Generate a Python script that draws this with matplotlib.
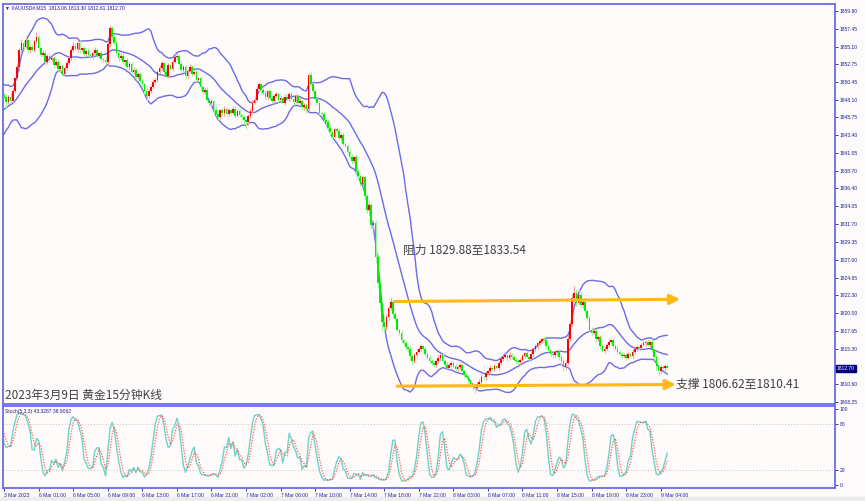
import numpy as np
import matplotlib.pyplot as plt

plt.rcParams['font.family'] = ['Noto Sans CJK SC', 'DejaVu Sans']

# bars before the first visible candle (only feed the indicators)
warmup = [1843.2, 1843.8, 1844.5, 1844.1, 1845.0, 1845.6, 1845.2, 1846.0, 1846.8, 1846.3,
          1847.1, 1847.6, 1847.2, 1848.0, 1848.5, 1847.9, 1848.6, 1849.0, 1848.4, 1848.7]
warmup_wick = [0.3, 0.2, 0.4, 0.3, 0.2, 0.3, 0.4, 0.2, 0.3, 0.2,
               0.4, 0.3, 0.2, 0.3, 0.2, 0.4, 0.3, 0.2, 0.3, 0.2]

# XAUUSD M15 closes (8 bars per row)
closes = [
    1848.4, 1847.8, 1848.5, 1847.9, 1849.3, 1850.9, 1852.4, 1854.6,
    1855.6, 1855.1, 1855.9, 1854.6, 1855.0, 1854.7, 1855.8, 1856.4,
    1854.9, 1854.0, 1854.3, 1853.1, 1853.9, 1853.3, 1853.6, 1852.7,
    1853.1, 1852.2, 1852.5, 1851.5, 1852.3, 1852.9, 1853.6, 1854.7,
    1855.2, 1854.8, 1855.6, 1854.6, 1854.9, 1854.1, 1854.5, 1854.0,
    1853.9, 1854.3, 1854.6, 1853.9, 1854.2, 1853.4, 1853.3, 1853.0,
    1855.4, 1857.6, 1856.4, 1855.6, 1854.2, 1853.6, 1853.9, 1853.0,
    1853.3, 1852.4, 1852.8, 1851.7, 1852.0, 1851.1, 1851.5, 1850.5,
    1850.1, 1849.3, 1848.6, 1849.2, 1849.8, 1850.4, 1850.7, 1851.8,
    1852.3, 1852.9, 1851.7, 1851.2, 1852.6, 1852.2, 1853.1, 1853.7,
    1853.9, 1852.8, 1852.0, 1852.4, 1851.2, 1851.9, 1852.4, 1851.5,
    1851.7, 1850.7, 1850.9, 1849.7, 1849.1, 1849.4, 1848.1, 1847.6,
    1847.9, 1846.8, 1846.2, 1845.8, 1846.7, 1846.3, 1846.9, 1846.2,
    1846.7, 1846.4, 1846.9, 1846.0, 1846.6, 1846.1, 1845.8, 1845.4,
    1845.1, 1845.9, 1846.6, 1847.7, 1848.1, 1849.5, 1850.1, 1849.4,
    1849.0, 1848.4, 1849.2, 1848.3, 1847.9, 1848.6, 1848.8, 1848.0,
    1848.3, 1847.7, 1848.5, 1848.2, 1848.9, 1848.2, 1847.8, 1848.6,
    1847.7, 1847.9, 1847.1, 1847.4, 1846.9, 1851.3, 1850.1, 1849.3,
    1848.2, 1847.6, 1846.4, 1846.2, 1845.4, 1845.1, 1844.3, 1843.8,
    1843.2, 1844.2, 1844.0, 1843.1, 1843.5, 1842.3, 1842.0, 1841.2,
    1840.6, 1840.0, 1840.5, 1838.7, 1838.0, 1837.0, 1837.9, 1835.4,
    1833.6, 1834.2, 1831.6, 1831.9, 1827.4, 1824.0, 1821.3, 1818.8,
    1818.2, 1819.4, 1820.6, 1821.5, 1819.8, 1819.2, 1817.7, 1817.4,
    1816.4, 1816.0, 1815.5, 1815.2, 1814.3, 1813.6, 1814.5, 1814.9,
    1815.3, 1815.6, 1815.2, 1814.6, 1814.1, 1813.7, 1813.4, 1813.2,
    1813.6, 1814.1, 1814.4, 1813.7, 1813.2, 1812.8, 1813.2, 1813.4,
    1813.0, 1812.6, 1812.9, 1813.1, 1812.4, 1811.8, 1811.6, 1811.0,
    1810.6, 1810.3, 1810.1, 1810.7, 1810.9, 1811.6, 1811.5, 1812.1,
    1812.3, 1812.8, 1812.6, 1813.0, 1812.8, 1813.4, 1813.9, 1814.2,
    1814.4, 1814.0, 1814.5, 1814.2, 1813.8, 1813.6, 1813.5, 1813.8,
    1814.3, 1814.7, 1814.2, 1813.9, 1814.6, 1815.2, 1815.6, 1816.0,
    1816.3, 1816.5, 1816.4, 1815.6, 1815.1, 1814.6, 1814.4, 1814.8,
    1815.0, 1814.2, 1813.6, 1812.9, 1813.4, 1816.6, 1818.5, 1821.9,
    1822.6, 1821.3, 1822.4, 1821.0, 1821.4, 1820.2, 1819.3, 1817.8,
    1817.4, 1817.6, 1816.5, 1816.8, 1815.6, 1815.0, 1815.3, 1815.8,
    1816.2, 1816.4, 1815.7, 1815.3, 1814.9, 1814.6, 1814.3, 1814.5,
    1814.1, 1814.6, 1814.3, 1814.9, 1815.2, 1815.5, 1815.4, 1815.8,
    1816.0, 1816.2, 1815.8, 1816.2, 1815.1, 1814.2, 1813.0, 1812.3,
    1812.9, 1812.7, 1813.06, 1812.70,
]

# upper / lower shadow lengths in dollars, same layout as closes
wick_hi = [
    0.3, 0.4, 0.2, 0.5, 0.3, 0.2, 0.4, 0.3,  0.5, 0.3, 0.4, 0.2, 0.3, 0.4, 0.2, 0.6,
    0.3, 0.2, 0.4, 0.3, 0.2, 0.3, 0.4, 0.2,  0.3, 0.4, 0.2, 0.3, 0.2, 0.3, 0.2, 0.4,
    0.5, 0.3, 0.3, 0.4, 0.2, 0.3, 0.2, 0.4,  0.3, 0.2, 0.4, 0.3, 0.2, 0.3, 0.2, 0.4,
    0.6, 0.3, 0.2, 0.4, 0.3, 0.2, 0.4, 0.3,  0.2, 0.4, 0.3, 0.2, 0.4, 0.3, 0.2, 0.3,
    0.3, 0.2, 0.4, 0.3, 0.2, 0.4, 0.3, 0.2,  0.4, 0.3, 0.2, 0.5, 0.3, 0.2, 0.3, 0.5,
    0.3, 0.2, 0.4, 0.3, 0.2, 0.3, 0.4, 0.2,  0.3, 0.4, 0.2, 0.3, 0.2, 0.4, 0.3, 0.2,
    0.3, 0.2, 0.4, 0.3, 0.2, 0.3, 0.4, 0.2,  0.3, 0.2, 0.3, 0.4, 0.2, 0.3, 0.2, 0.3,
    0.2, 0.3, 0.4, 0.3, 0.2, 0.5, 0.3, 0.2,  0.3, 0.4, 0.2, 0.3, 0.4, 0.2, 0.3, 0.2,
    0.3, 0.2, 0.4, 0.3, 0.2, 0.3, 0.4, 0.2,  0.3, 0.4, 0.2, 0.3, 0.2, 0.3, 0.6, 0.3,
    0.2, 0.3, 0.4, 0.2, 0.3, 0.2, 0.3, 0.4,  0.3, 0.2, 0.3, 0.4, 0.2, 0.3, 0.2, 0.3,
    0.2, 0.3, 0.2, 0.4, 0.3, 0.2, 0.3, 0.2,  0.4, 0.5, 0.3, 0.4, 0.3, 0.4, 0.5, 0.4,
    0.6, 0.4, 0.5, 0.4, 0.3, 0.4, 0.3, 0.2,  0.3, 0.2, 0.3, 0.2, 0.4, 0.3, 0.2, 0.3,
    0.2, 0.3, 0.2, 0.3, 0.2, 0.3, 0.2, 0.3,  0.2, 0.3, 0.2, 0.3, 0.2, 0.3, 0.2, 0.3,
    0.2, 0.3, 0.2, 0.3, 0.2, 0.2, 0.3, 0.2,  0.3, 0.2, 0.3, 0.2, 0.4, 0.3, 0.2, 0.3,
    0.2, 0.3, 0.2, 0.3, 0.2, 0.3, 0.2, 0.3,  0.3, 0.2, 0.3, 0.2, 0.3, 0.2, 0.3, 0.2,
    0.3, 0.2, 0.3, 0.2, 0.3, 0.2, 0.3, 0.2,  0.3, 0.2, 0.3, 0.2, 0.3, 0.2, 0.3, 0.2,
    0.2, 0.3, 0.2, 0.3, 0.4, 0.5, 0.4, 0.6,  1.0, 0.5, 0.8, 0.4, 0.6, 0.4, 0.3, 0.4,
    0.3, 0.4, 0.3, 0.2, 0.3, 0.2, 0.3, 0.2,  0.3, 0.2, 0.3, 0.2, 0.3, 0.2, 0.3, 0.2,
    0.2, 0.3, 0.2, 0.3, 0.2, 0.3, 0.2, 0.3,  0.3, 0.2, 0.3, 0.2, 0.3, 0.2, 0.3, 0.2,
    0.2, 0.3, 0.2, 0.24,
]
wick_lo = [
    0.2, 0.9, 0.3, 0.2, 0.4, 0.3, 0.2, 0.5,  0.3, 0.4, 0.2, 0.3, 0.4, 0.2, 0.3, 0.2,
    0.4, 0.3, 0.2, 0.4, 0.3, 0.2, 0.3, 0.4,  0.2, 0.3, 0.4, 0.3, 0.2, 0.3, 0.2, 0.3,
    0.3, 0.2, 0.4, 0.3, 0.2, 0.4, 0.3, 0.2,  0.2, 0.4, 0.3, 0.2, 0.3, 0.2, 0.3, 0.2,
    0.3, 0.2, 0.4, 0.3, 0.2, 0.4, 0.3, 0.2,  0.3, 0.2, 0.4, 0.3, 0.2, 0.4, 0.3, 0.2,
    0.3, 0.4, 0.7, 0.3, 0.2, 0.3, 0.2, 0.3,  0.2, 0.3, 0.4, 0.2, 0.3, 0.2, 0.3, 0.2,
    0.3, 0.2, 0.3, 0.2, 0.4, 0.3, 0.2, 0.3,  0.2, 0.3, 0.2, 0.4, 0.3, 0.2, 0.3, 0.4,
    0.3, 0.4, 0.2, 0.4, 0.3, 0.2, 0.3, 0.2,  0.2, 0.3, 0.2, 0.3, 0.2, 0.3, 0.4, 0.5,
    0.9, 0.3, 0.2, 0.3, 0.2, 0.3, 0.2, 0.4,  0.3, 0.2, 0.3, 0.2, 0.4, 0.3, 0.2, 0.3,
    0.3, 0.2, 0.3, 0.2, 0.3, 0.2, 0.4, 0.2,  0.3, 0.2, 0.4, 0.3, 0.5, 0.3, 0.2, 0.3,
    0.3, 0.2, 0.3, 0.4, 0.2, 0.3, 0.2, 0.3,  0.3, 0.2, 0.3, 0.2, 0.4, 0.3, 0.2, 0.3,
    0.3, 0.4, 0.3, 0.2, 0.4, 0.3, 0.4, 0.3,  0.5, 0.4, 0.6, 0.5, 0.8, 0.7, 0.9, 1.2,
    0.6, 0.4, 0.3, 0.2, 0.4, 0.3, 0.2, 0.3,  0.3, 0.2, 0.4, 0.3, 0.5, 0.4, 0.2, 0.3,
    0.2, 0.3, 0.2, 0.3, 0.2, 0.3, 0.2, 0.3,  0.3, 0.2, 0.3, 0.2, 0.3, 0.2, 0.3, 0.3,
    0.2, 0.3, 0.2, 0.3, 0.2, 0.3, 0.2, 0.3,  0.3, 0.4, 0.6, 0.3, 0.2, 0.3, 0.2, 0.3,
    0.2, 0.3, 0.2, 0.3, 0.2, 0.3, 0.2, 0.3,  0.2, 0.3, 0.2, 0.3, 0.2, 0.3, 0.2, 0.3,
    0.2, 0.3, 0.2, 0.3, 0.2, 0.3, 0.2, 0.3,  0.2, 0.3, 0.2, 0.3, 0.2, 0.3, 0.4, 0.2,
    0.3, 0.4, 0.5, 0.6, 0.3, 0.2, 0.3, 0.2,  0.3, 0.4, 0.3, 0.4, 0.3, 0.2, 0.3, 0.2,
    0.3, 0.2, 0.3, 0.2, 0.3, 0.2, 0.3, 0.2,  0.3, 0.2, 0.3, 0.2, 0.3, 0.2, 0.3, 0.2,
    0.3, 0.2, 0.3, 0.2, 0.3, 0.2, 0.3, 0.2,  0.2, 0.3, 0.2, 0.3, 0.3, 0.4, 0.5, 0.6,
    0.3, 0.2, 0.2, 0.09,
]

time_labels = ['3 Mar 2023', '6 Mar 01:00', '6 Mar 05:00', '6 Mar 09:00', '6 Mar 13:00',
               '6 Mar 17:00', '6 Mar 21:00', '7 Mar 02:00', '7 Mar 06:00', '7 Mar 10:00',
               '7 Mar 14:00', '7 Mar 18:00', '7 Mar 22:00', '8 Mar 03:00', '8 Mar 07:00',
               '8 Mar 11:00', '8 Mar 15:00', '8 Mar 19:00', '8 Mar 23:00', '9 Mar 04:00']
price_ticks = [1859.80, 1857.45, 1855.10, 1852.75, 1850.45, 1848.10, 1845.75, 1843.40,
               1841.05, 1838.70, 1836.40, 1834.05, 1831.70, 1829.35, 1827.00, 1824.65,
               1822.30, 1820.00, 1817.65, 1815.30, 1812.95, 1810.60, 1808.25]
last_ohlc = [1813.06, 1813.30, 1812.61, 1812.70]
stoch_last = [43.3287, 38.9062]
resist_zone = [1829.88, 1833.54]
support_zone = [1806.62, 1810.41]
resist_line = [(181, 1821.5), (313, 1821.8)]
support_line = [(182, 1810.35), (311, 1810.57)]

BLUE = '#6b6be8'
NAVY = '#1c1c8c'
ORANGE = '#ffb81c'

allc = np.array(warmup + closes)
allo = np.r_[allc[0], allc[:-1]]
allh = np.maximum(allo, allc) + np.array(warmup_wick + wick_hi)
alll = np.minimum(allo, allc) - np.array(warmup_wick + wick_lo)
n0 = len(warmup)
xs = np.arange(len(allc)) - n0

# Bollinger bands 20, 2
mid = np.full(len(allc), np.nan)
up = np.full(len(allc), np.nan)
lo = np.full(len(allc), np.nan)
for k in range(19, len(allc)):
    w = allc[k - 19:k + 1]
    mid[k] = w.mean()
    up[k] = w.mean() + 2 * w.std()
    lo[k] = w.mean() - 2 * w.std()

# Stochastic 5,3,3
num = np.full(len(allc), np.nan)
den = np.full(len(allc), np.nan)
for k in range(4, len(allc)):
    num[k] = allc[k] - alll[k - 4:k + 1].min()
    den[k] = allh[k - 4:k + 1].max() - alll[k - 4:k + 1].min()
kline = np.full(len(allc), np.nan)
for k in range(6, len(allc)):
    kline[k] = 100 * num[k - 2:k + 1].sum() / den[k - 2:k + 1].sum()
dline = np.full(len(allc), np.nan)
for k in range(8, len(allc)):
    dline[k] = kline[k - 2:k + 1].mean()

fig = plt.figure(figsize=(8.65, 5.01), dpi=100, facecolor='#fcfafa')
W, H = 865, 501
ax = fig.add_axes([3 / W, 1 - 404 / H, 832 / W, 400 / H], facecolor='#fffbfa')
ax2 = fig.add_axes([3 / W, 1 - 488 / H, 832 / W, 82 / H], facecolor='#fffbfa')
fig.patches.append(plt.Rectangle((0, 0), 1, 4 / H, transform=fig.transFigure,
                                 color='#ececec', zorder=-5))

vis = xs >= -1
o, c, x = allo[n0:], allc[n0:], xs[n0:]
rising = c >= o
cols = np.where(rising, '#ff0000', '#00ee00')
wick_cols = np.where(rising, '#ff9c9c', '#9cf59c')
ax.vlines(x, alll[n0:], allh[n0:], colors=wick_cols, lw=0.8, zorder=3)
ax.bar(x, np.maximum(np.abs(c - o), 0.06), bottom=np.minimum(o, c), width=0.75,
       color=cols, linewidth=0, zorder=3)
for band in (up, mid, lo):
    ax.plot(xs[vis], band[vis], color=BLUE, lw=1.0, zorder=2)

for (x0, y0), (x1, y1) in (resist_line, support_line):
    ax.annotate('', xy=(x1, y1), xytext=(x0, y0),
                arrowprops=dict(arrowstyle='-|>,head_length=0.6,head_width=0.3',
                                color=ORANGE, lw=2.2, shrinkA=0, shrinkB=0), zorder=4)

ax.text(184.5, 1828.25, f'阻力 {resist_zone[0]:.2f}至{resist_zone[1]:.2f}', fontsize=8.5,
        color='#404040', va='center', ha='left')
ax.text(311, 1810.6, f'支撑 {support_zone[0]:.2f}至{support_zone[1]:.2f}', fontsize=8.5,
        color='#404040', va='center', ha='left')
ax.text(0.0025, 0.0225, '2023年3月9日 黄金15分钟K线', transform=ax.transAxes, fontsize=8.5,
        color='#404040', va='center', ha='left')
ax.text(0.003, 0.99, '▼ XAUUSD#,M15  ' + ' '.join(f'{v:.2f}' for v in last_ohlc),
        transform=ax.transAxes, fontsize=3.6, color=NAVY, va='center', ha='left',
        family=['Liberation Sans', 'DejaVu Sans'])

ax.set_xlim(-0.5, 384.7)
ax.set_ylim(1808.0, 1860.7)
ax.set_xticks([])
ax.yaxis.tick_right()
ax.set_yticks(price_ticks)
# the 1812.95 label sits under the current-price box
ax.set_yticklabels(['' if v == 1812.95 else f'{v:.2f}' for v in price_ticks])
ax.tick_params(axis='y', direction='out', length=2, width=0.6, pad=1.5, labelsize=3.6,
               colors=NAVY)
ax.annotate(f'{last_ohlc[3]:.2f}', xy=(1.0, last_ohlc[3]), xycoords=('axes fraction', 'data'),
            xytext=(1.5, 0), textcoords='offset points', fontsize=3.6, color='white',
            va='center', ha='left', family=['Liberation Sans', 'DejaVu Sans'],
            bbox=dict(boxstyle='square,pad=0.25', fc='#000080', ec='#000080'))

ax2.plot(xs[vis], kline[vis], color='#6fd2c6', lw=1.0)
ax2.plot(xs[vis], dline[vis], color='#ff5a5a', lw=0.9, ls=(0, (1, 1.2)))
for lvl in (80, 20):
    ax2.axhline(lvl, color='#c4c4c4', lw=0.7, ls=(0, (1, 2)))
ax2.text(0.003, 0.93, f'Stoch(5,3,3) {stoch_last[0]:.4f} {stoch_last[1]:.4f}',
         transform=ax2.transAxes, fontsize=3.6, color=NAVY, va='center', ha='left',
         family=['Liberation Sans', 'DejaVu Sans'])
ax2.set_xlim(-0.5, 384.7)
ax2.set_ylim(-4, 104)
ax2.yaxis.tick_right()
ax2.set_yticks([100, 80, 20, 0])
ax2.tick_params(axis='y', direction='out', length=2, width=0.6, pad=1.5, labelsize=3.6,
                colors=NAVY)
ax2.set_xticks(np.arange(len(time_labels)) * 16)
ax2.set_xticklabels(time_labels, ha='left')
ax2.tick_params(axis='x', direction='out', length=2, width=0.6, pad=1.5, labelsize=3.6,
                colors=NAVY)
for t in ax.get_yticklabels() + ax2.get_yticklabels() + ax2.get_xticklabels():
    t.set_family(['Liberation Sans', 'DejaVu Sans'])
    t.set_color('#20208a')

for a in (ax, ax2):
    for s in a.spines.values():
        s.set_color(BLUE)
        s.set_linewidth(1.3)

fig.savefig('out.png', dpi=100, facecolor=fig.get_facecolor())
